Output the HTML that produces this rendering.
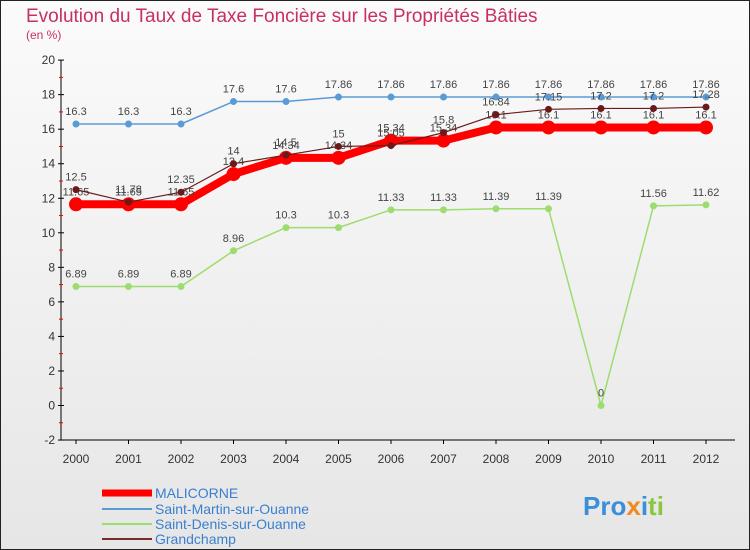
<!DOCTYPE html>
<html><head><meta charset="utf-8"><style>
body{margin:0}
svg{display:block;font-family:"Liberation Sans",sans-serif}
</style></head><body>
<svg id="c" width="750" height="550" xmlns="http://www.w3.org/2000/svg">
<defs><linearGradient id="bg" x1="0" y1="0" x2="0" y2="1"><stop offset="0" stop-color="#fbfbfb"/><stop offset="1" stop-color="#e6e6e6"/></linearGradient></defs>
<rect x="0.5" y="0.5" width="749" height="549" fill="url(#bg)" stroke="#222"/>
<text x="26" y="22" font-size="19" fill="#c8305f">Evolution du Taux de Taxe Foncière sur les Propriétés Bâties</text>
<text x="26" y="39" font-size="12" fill="#c8305f">(en %)</text>
<g id="axes"></g><g id="series"></g>
<g>
<line x1="102" y1="493" x2="152" y2="493" stroke="#f00" stroke-width="7"/>
<text x="155" y="498" font-size="14" fill="#3a7fd0">MALICORNE</text>
<line x1="102" y1="509" x2="152" y2="509" stroke="#5b9bd5" stroke-width="2"/>
<text x="155" y="514" font-size="14" fill="#3a7fd0">Saint-Martin-sur-Ouanne</text>
<line x1="102" y1="524" x2="152" y2="524" stroke="#9ddc6e" stroke-width="2"/>
<text x="155" y="529" font-size="14" fill="#3a7fd0">Saint-Denis-sur-Ouanne</text>
<line x1="102" y1="539" x2="152" y2="539" stroke="#7a2a2a" stroke-width="2"/>
<text x="155" y="544" font-size="14" fill="#3a7fd0">Grandchamp</text>
</g>
<text x="583" y="515" font-size="26" font-weight="bold"><tspan fill="#3a8fd8">Pro</tspan><tspan fill="#f08a1c">x</tspan><tspan fill="#3a8fd8">i</tspan><tspan fill="#8cc63f">ti</tspan></text>
</svg>
<script>
const years=[2000,2001,2002,2003,2004,2005,2006,2007,2008,2009,2010,2011,2012];
const yTicks=[-2,0,2,4,6,8,10,12,14,16,18,20];
const malicorne=[11.65,11.65,11.65,13.4,14.34,14.34,15.34,15.34,16.1,16.1,16.1,16.1,16.1];
const saintMartin=[16.3,16.3,16.3,17.6,17.6,17.86,17.86,17.86,17.86,17.86,17.86,17.86,17.86];
const saintDenis=[6.89,6.89,6.89,8.96,10.3,10.3,11.33,11.33,11.39,11.39,0,11.56,11.62];
const grandchamp=[12.5,11.78,12.35,14,14.5,15,15.05,15.8,16.84,17.15,17.2,17.2,17.28];
const NS="http://www.w3.org/2000/svg";
const X=i=>76+i*52.5, Y=v=>405.5-v*17.27;
function mk(t,a,p){const e=document.createElementNS(NS,t);for(const k in a)e.setAttribute(k,a[k]);p.appendChild(e);return e;}
const ax=document.getElementById('axes'), sg=document.getElementById('series');
const ya=mk('line',{x1:61,y1:Y(20),x2:61,y2:Y(-2),stroke:'#000'},ax);


const xa=mk('line',{x1:61,y1:Y(-2),x2:735,y2:Y(-2),stroke:'#000'},ax);


yTicks.forEach(v=>{
  mk('line',{x1:58,y1:Y(v),x2:64,y2:Y(v),stroke:'#000'},ax);
  if(v<20)mk('line',{x1:59,y1:Y(v+1),x2:63,y2:Y(v+1),stroke:'#e00'},ax);
  const t=mk('text',{x:55,y:Y(v)+4,'text-anchor':'end','font-size':12,fill:'#333'},ax);t.textContent=v;
  
  
});
years.forEach((y,i)=>{
  mk('line',{x1:X(i),y1:Y(-2),x2:X(i),y2:Y(-2)+4,stroke:'#000'},ax);
  const t=mk('text',{x:X(i),y:463,'text-anchor':'middle','font-size':12,fill:'#333'},ax);t.textContent=y;
  
  
});
function series(d,color,w,r,name){
  const g=mk('g',{},sg);
  
  
  mk('polyline',{points:d.map((v,i)=>X(i)+','+Y(v)).join(' '),fill:'none',stroke:color,'stroke-width':w,'stroke-linejoin':'round'},g);
  d.forEach((v,i)=>{
    const c=mk('circle',{cx:X(i),cy:Y(v),r:r,fill:color},g);
    
    
    const t=mk('text',{x:X(i),y:Y(v)-9,'text-anchor':'middle','font-size':11,fill:'#444'},g);t.textContent=v;
    
    
  });
}
series(saintDenis,'#9ddc6e',1.5,3.5,'series-saint-denis');
series(saintMartin,'#5b9bd5',1.5,3.5,'series-saint-martin');
series(malicorne,'#f00',8,7,'series-malicorne');
series(grandchamp,'#6a1a1a',1.2,3.5,'series-grandchamp');
</script>
</body></html>
